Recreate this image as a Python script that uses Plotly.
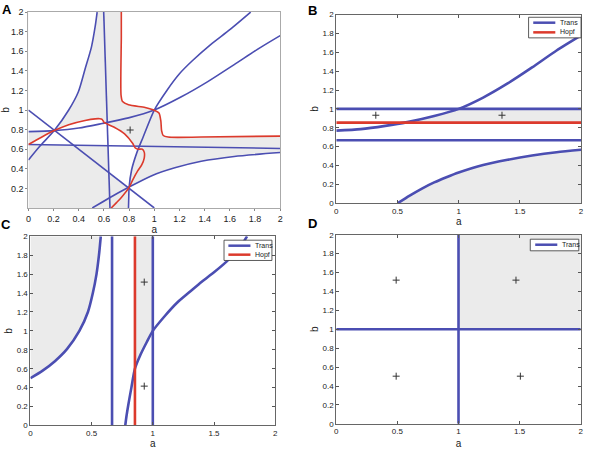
import numpy as np
import plotly.graph_objects as go

W, H = 589, 449
BLUE = "#4b4eb2"
RED = "#dc3a2c"
GRAY = "#ebebeb"
FONT = "Liberation Sans, Arial, sans-serif"

# ---------------- Panel A data ----------------
A_diag_a = [0.0, 1.0]
A_diag_b = [1.0, 0.0]
A_left_a = [0.0, 0.09, 0.205, 0.32, 0.396, 0.449, 0.501, 0.53, 0.546]
A_left_b = [0.49, 0.63, 0.79, 1.0, 1.184, 1.414, 1.645, 1.85, 2.0]
A_vert_a = [0.598, 0.648]
A_vert_b = [2.0, 0.0]
A_horiz_a = [0.0, 2.0]
A_horiz_b = [0.648, 0.608]
A_upper_a = [0.0, 0.205, 0.40, 0.585, 0.795, 1.0, 1.215, 1.425, 1.635, 1.845, 2.0]
A_upper_b = [0.78, 0.79, 0.816, 0.862, 0.92, 1.0, 1.135, 1.29, 1.464, 1.64, 1.76]
A_steep_a = [0.795, 0.797, 0.80, 0.82, 0.86, 0.91, 1.0, 1.1, 1.2, 1.3, 1.45, 1.6, 1.766]
A_steep_b = [0.0, 0.1, 0.21, 0.39, 0.56, 0.72, 1.0, 1.2, 1.37, 1.5, 1.67, 1.82, 2.0]
A_lower_a = [0.507, 0.638, 0.80, 0.98, 1.163, 1.373, 1.635, 2.0]
A_lower_b = [0.0, 0.1, 0.214, 0.33, 0.41, 0.477, 0.526, 0.566]
A_hopf1_a = [0.738, 0.738, 0.736, 0.748, 0.795, 0.927, 0.99, 1.037, 1.052, 1.058, 1.071, 1.11, 1.373, 2.0]
A_hopf1_b = [2.0, 1.74, 1.15, 1.086, 1.053, 1.026, 1.003, 0.97, 0.888, 0.79, 0.74, 0.724, 0.724, 0.734]
A_hopf2_a = [0.0, 0.1, 0.205, 0.32, 0.45, 0.53, 0.567, 0.585, 0.60, 0.611, 0.685, 0.764, 0.829,
             0.847, 0.87, 0.905, 0.92, 0.92, 0.90, 0.868, 0.83, 0.80, 0.74, 0.70, 0.658]
A_hopf2_b = [0.648, 0.72, 0.79, 0.85, 0.893, 0.91, 0.911, 0.905, 0.875, 0.866, 0.822, 0.757, 0.658,
             0.615, 0.60, 0.60, 0.57, 0.51, 0.44, 0.378, 0.29, 0.21, 0.11, 0.055, 0.0]
A_plus_a = [0.808]
A_plus_b = [0.796]

# ---------------- Panel B data ----------------
B_trans_levels = [1.0, 0.667]
B_hopf_level = 0.855
B_up_a = [0.0, 0.2, 0.4, 0.58, 0.8, 1.0, 1.2, 1.4, 1.6, 1.8, 2.0]
B_up_b = [0.77, 0.785, 0.82, 0.86, 0.925, 1.0, 1.12, 1.27, 1.44, 1.62, 1.78]
B_low_a = [0.503, 0.6, 0.7, 0.8, 0.9, 1.0, 1.2, 1.4, 1.6, 1.8, 2.0]
B_low_b = [0.0, 0.08, 0.155, 0.22, 0.275, 0.325, 0.405, 0.46, 0.505, 0.54, 0.566]
B_plus_a = [0.323, 1.354]
B_plus_b = [0.933, 0.933]

# ---------------- Panel C data ----------------
C_trans_levels = [0.667, 1.0]
C_hopf_level = 0.854
C_left_a = [0.0, 0.1, 0.2, 0.3, 0.4, 0.47, 0.51, 0.54, 0.56, 0.575]
C_left_b = [0.5, 0.58, 0.68, 0.81, 1.0, 1.2, 1.4, 1.6, 1.8, 2.0]
C_right_a = [0.775, 0.785, 0.80, 0.825, 0.854, 0.9, 0.95, 1.0, 1.1, 1.2, 1.3, 1.4, 1.5, 1.6, 1.7, 1.77]
C_right_b = [0.0, 0.1, 0.22, 0.4, 0.6, 0.75, 0.88, 1.0, 1.16, 1.3, 1.41, 1.52, 1.62, 1.73, 1.86, 2.0]
C_plus_a = [0.93, 0.93]
C_plus_b = [1.516, 0.416]

# ---------------- Panel D data ----------------
D_trans_a = 1.0
D_trans_b = 1.0
D_plus_a = [0.49, 1.47, 0.49, 1.506]
D_plus_b = [1.52, 1.52, 0.504, 0.504]

AX_MIN, AX_MAX = 0.0, 2.0

fig = go.Figure()


def add_fill(a, b, color, xa, ya):
    fig.add_trace(go.Scatter(x=list(a), y=list(b), mode="lines", fill="toself",
                             fillcolor=color, line=dict(width=0, color=color),
                             xaxis=xa, yaxis=ya, showlegend=False, hoverinfo="skip"))


def add_line(a, b, color, width, xa, ya, name=None, smooth=False):
    line = dict(color=color, width=width)
    if smooth:
        line.update(shape="spline", smoothing=0.7)
    fig.add_trace(go.Scatter(x=list(a), y=list(b), mode="lines", line=line,
                             xaxis=xa, yaxis=ya, showlegend=False, name=name,
                             hoverinfo="skip"))


def add_plus(a, b, xa, ya):
    fig.add_trace(go.Scatter(x=a, y=b, mode="markers",
                             marker=dict(symbol="cross-thin", size=5,
                                         line=dict(width=1, color="#333333")),
                             xaxis=xa, yaxis=ya, showlegend=False, hoverinfo="skip"))


def intersect(a1, b1, a2, b2):
    x1, y1, x2, y2 = a1[0], b1[0], a1[-1], b1[-1]
    x3, y3, x4, y4 = a2[0], b2[0], a2[-1], b2[-1]
    d = (x1 - x2) * (y3 - y4) - (y1 - y2) * (x3 - x4)
    px = ((x1 * y2 - y1 * x2) * (x3 - x4) - (x1 - x2) * (x3 * y4 - y3 * x4)) / d
    py = ((x1 * y2 - y1 * x2) * (y3 - y4) - (y1 - y2) * (x3 * y4 - y3 * x4)) / d
    return px, py


# ================= Panel A =================
add_fill([AX_MIN, AX_MAX, AX_MAX, AX_MIN], [AX_MIN, AX_MIN, AX_MAX, AX_MAX], GRAY, "x", "y")
ua, ub = np.array(A_upper_a), np.array(A_upper_b)
la, lb = np.array(A_left_a), np.array(A_left_b)
m1 = ua <= A_left_a[2]
m2 = lb >= A_left_b[2]
add_fill(list(ua[m1]) + list(la[m2]) + [AX_MIN], list(ub[m1]) + list(lb[m2]) + [AX_MAX], "white", "x", "y")
add_fill(A_hopf1_a + [AX_MAX], A_hopf1_b + [AX_MAX], "white", "x", "y")
sa, sb = np.array(A_steep_a), np.array(A_steep_b)
wa, wb = np.array(A_lower_a), np.array(A_lower_b)
ms = sb <= 0.21
mw = wa >= 0.8
add_fill(list(sa[ms]) + list(wa[mw]) + [AX_MAX], list(sb[ms]) + list(wb[mw]) + [AX_MIN], "white", "x", "y")
k = 15
ms2 = (sb >= 0.21) & (sb < 0.6)
p1 = intersect(A_diag_a, A_diag_b, A_vert_a, A_vert_b)
p2 = intersect(A_vert_a, A_vert_b, A_horiz_a, A_horiz_b)
poly_a = A_hopf2_a[:k] + list(sa[ms2][::-1]) + [p1[0], p2[0]]
poly_b = A_hopf2_b[:k] + list(sb[ms2][::-1]) + [p1[1], p2[1]]
add_fill(poly_a, poly_b, "white", "x", "y")

LWA = 1.6
for a, b in [(A_diag_a, A_diag_b), (A_vert_a, A_vert_b), (A_horiz_a, A_horiz_b)]:
    add_line(a, b, BLUE, LWA, "x", "y", "Trans")
for a, b in [(A_left_a, A_left_b), (A_upper_a, A_upper_b), (A_steep_a, A_steep_b),
             (A_lower_a, A_lower_b)]:
    add_line(a, b, BLUE, LWA, "x", "y", "Trans", smooth=True)
add_line(A_hopf1_a, A_hopf1_b, RED, LWA, "x", "y", "Hopf", smooth=True)
add_line(A_hopf2_a, A_hopf2_b, RED, LWA, "x", "y", "Hopf", smooth=True)
add_plus(A_plus_a, A_plus_b, "x", "y")

# ================= Panel B =================
LW = 2.6
bua, bub = np.array(B_up_a), np.array(B_up_b)
a_cross = float(np.interp(B_hopf_level, bub, bua))
mb = (bub > B_hopf_level) & (bub <= B_trans_levels[0])
add_fill([a_cross] + list(bua[mb]) + [AX_MAX, AX_MAX],
         [B_hopf_level] + list(bub[mb]) + [B_trans_levels[0], B_hopf_level], GRAY, "x2", "y2")
add_fill(B_low_a + [AX_MAX], B_low_b + [AX_MIN], GRAY, "x2", "y2")
for lev in B_trans_levels:
    add_line([AX_MIN, AX_MAX], [lev, lev], BLUE, LW, "x2", "y2", "Trans")
add_line(B_up_a, B_up_b, BLUE, LW, "x2", "y2", "Trans", smooth=True)
add_line(B_low_a, B_low_b, BLUE, LW, "x2", "y2", "Trans", smooth=True)
add_line([AX_MIN, AX_MAX], [B_hopf_level, B_hopf_level], RED, LW, "x2", "y2", "Hopf")
add_plus(B_plus_a, B_plus_b, "x2", "y2")

# ================= Panel C =================
add_fill(C_left_a + [AX_MIN], C_left_b + [AX_MAX], GRAY, "x3", "y3")
cra, crb = np.array(C_right_a), np.array(C_right_b)
b_cross = float(np.interp(C_hopf_level, cra, crb))
mc = (cra > C_hopf_level) & (cra <= C_trans_levels[1])
add_fill([C_hopf_level] + list(cra[mc]) + [C_trans_levels[1], C_hopf_level],
         [b_cross] + list(crb[mc]) + [AX_MAX, AX_MAX], GRAY, "x3", "y3")
for lev in C_trans_levels:
    add_line([lev, lev], [AX_MIN, AX_MAX], BLUE, LW, "x3", "y3", "Trans")
add_line(C_left_a, C_left_b, BLUE, LW, "x3", "y3", "Trans", smooth=True)
add_line(C_right_a, C_right_b, BLUE, LW, "x3", "y3", "Trans", smooth=True)
add_line([C_hopf_level, C_hopf_level], [AX_MIN, AX_MAX], RED, LW, "x3", "y3", "Hopf")
add_plus(C_plus_a, C_plus_b, "x3", "y3")

# ================= Panel D =================
add_fill([D_trans_a, AX_MAX, AX_MAX, D_trans_a], [D_trans_b, D_trans_b, AX_MAX, AX_MAX], GRAY, "x4", "y4")
add_line([D_trans_a, D_trans_a], [AX_MIN, AX_MAX], BLUE, LW, "x4", "y4", "Trans")
add_line([AX_MIN, AX_MAX], [D_trans_b, D_trans_b], BLUE, LW, "x4", "y4", "Trans")
add_plus(D_plus_a, D_plus_b, "x4", "y4")


# ================= Layout =================
def dx(p0, p1):
    return [p0 / W, p1 / W]


def dy(top, bottom):
    return [1 - bottom / H, 1 - top / H]


panels = {
    "": (dx(25.7, 280), dy(7.3, 210)),
    "2": (dx(336.7, 584), dy(10, 205)),
    "3": (dx(27.7, 275), dy(239.3, 435)),
    "4": (dx(336.7, 583.7), dy(237.7, 433.3)),
}

A_xticks = [0, 0.2, 0.4, 0.6, 0.8, 1, 1.2, 1.4, 1.6, 1.8, 2]
A_yticks = [0.2, 0.4, 0.6, 0.8, 1, 1.2, 1.4, 1.6, 1.8, 2]
O_xticks = [0, 0.5, 1, 1.5, 2]
O_yticks = [0, 0.2, 0.4, 0.6, 0.8, 1, 1.2, 1.4, 1.6, 1.8, 2]

layout = dict(width=W, height=H, margin=dict(l=0, r=0, t=0, b=0),
              paper_bgcolor="white", plot_bgcolor="white",
              font=dict(family=FONT, color="#222222"), showlegend=False)

for key, (xd, yd) in panels.items():
    isA = key == ""
    bottom_row = key in ("3", "4")
    common = dict(range=[AX_MIN, AX_MAX], showgrid=False, zeroline=False, showline=True,
                  mirror="ticks" if not isA else True,
                  linecolor="#aaaaaa" if isA else "#666666", linewidth=1,
                  ticks="outside" if isA else "inside", ticklen=2 if isA else 3,
                  tickcolor="#888888" if isA else "#555555",
                  tickfont=dict(size=9 if isA else 8, family=FONT, color="#222222"),
                  fixedrange=True)
    xa = dict(common, domain=xd, anchor="y" + key,
              tickvals=A_xticks if isA else O_xticks,
              ticktext=[f"{v:g}" for v in (A_xticks if isA else O_xticks)],
              title=dict(text="a", font=dict(size=10, family=FONT),
                         standoff=4 if bottom_row else 0))
    ya = dict(common, domain=yd, anchor="x" + key,
              tickvals=A_yticks if isA else O_yticks,
              ticktext=[f"{v:g}" for v in (A_yticks if isA else O_yticks)],
              title=dict(text="b", font=dict(size=10, family=FONT), standoff=2))
    layout["xaxis" + key] = xa
    layout["yaxis" + key] = ya

annotations = []
for txt, x, y in [("A", 4, 5), ("B", 313, 6), ("C", 3, 227.5), ("D", 313, 226.5)]:
    annotations.append(dict(text=f"<b>{txt}</b>", x=x / W, y=1 - y / H, xref="paper", yref="paper",
                            xanchor="center", yanchor="middle", showarrow=False,
                            font=dict(size=13, family=FONT, color="black")))

shapes = []


def legend_box(x0, x1, y0, y1, items):
    shapes.append(dict(type="rect", xref="paper", yref="paper",
                       x0=x0 / W, x1=x1 / W, y0=1 - y1 / H, y1=1 - y0 / H,
                       line=dict(color="#333333", width=0.8), fillcolor="white", layer="above"))
    for (name, color, lx0, lx1, yy) in items:
        shapes.append(dict(type="line", xref="paper", yref="paper",
                           x0=lx0 / W, x1=lx1 / W, y0=1 - yy / H, y1=1 - yy / H,
                           line=dict(color=color, width=2.5), layer="above"))
        annotations.append(dict(text=name, x=(lx1 + 3) / W, y=1 - yy / H, xref="paper",
                                yref="paper", xanchor="left", yanchor="middle", showarrow=False,
                                font=dict(size=7, family=FONT, color="#222222")))


legend_box(531, 584, 12.7, 34, [("Trans", BLUE, 535.7, 558, 18.3), ("Hopf", RED, 535.7, 558, 28.3)])
legend_box(223.3, 271.7, 243.3, 264.3, [("Trans", BLUE, 227.7, 250, 249), ("Hopf", RED, 227.7, 250, 258.3)])
legend_box(532.7, 581.7, 242.3, 254.3, [("Trans", BLUE, 537.7, 560, 248)])

layout["annotations"] = annotations
layout["shapes"] = shapes
fig.update_layout(**layout)
fig.write_html("out.html")
